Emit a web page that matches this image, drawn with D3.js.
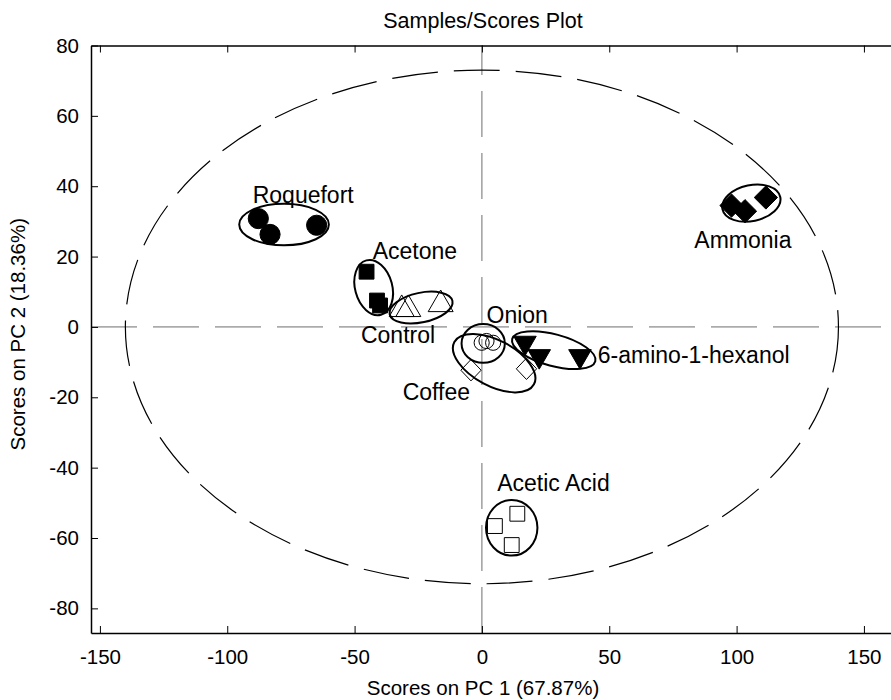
<!DOCTYPE html>
<html>
<head>
<meta charset="utf-8">
<script src="https://cdn.jsdelivr.net/npm/d3@7"></script>
<style>
  html, body { margin: 0; padding: 0; background: #fff; }
  svg { display: block; font-family: Arial, "Liberation Sans", Helvetica, sans-serif; }
</style>
</head>
<body>
<svg id="chart" width="891" height="700"></svg>
<script>
// PCA scores: PC1 vs PC2 for each odour class
const groups = ["Roquefort", "Acetone", "Control", "Onion", "Coffee", "6-amino-1-hexanol", "Ammonia", "Acetic Acid"];
const markers = ["circleFilled", "squareFilled", "triangleOpen", "circleOpen", "diamondOpen", "triangleDownFilled", "diamondFilled", "squareOpen"];

const pc1 = [
  [-87.8, -83.2, -64.9],
  [-45.3, -41.2, -40.0],
  [-31.5, -28.9, -16.2],
  [-0.1, 1.8, 4.4],
  [-4.3, 17.5],
  [16.9, 22.5, 38.5],
  [98.0, 103.3, 111.5],
  [13.9, 5.1, 11.7]
];
const pc2 = [
  [30.8, 26.3, 28.9],
  [15.7, 7.5, 6.1],
  [5.0, 5.0, 6.4],
  [-4.5, -4.0, -4.5],
  [-12.3, -11.9],
  [-4.5, -8.3, -8.3],
  [34.5, 32.9, 36.8],
  [-53.1, -56.6, -62.0]
];

// group ellipses: centre, half-axes (score units) and tilt (degrees)
const ellCx = [-77.7, -42.5, -23.9, 0.5, 4.8, 28.2, 105.8, 11.7];
const ellCy = [29.1, 11.2, 5.5, -4.7, -10.3, -6.6, 35.2, -57.1];
const ellRx = [17.6, 7.3, 12.6, 8.5, 17.7, 16.9, 11.6, 10.1];
const ellRy = [5.9, 8.0, 4.2, 5.5, 6.5, 4.5, 5.1, 7.9];
const ellTilt = [0, -15, -12, 0, 28, 15, -12, 0];

// group label anchors (score units)
const labelX = [-90.0, -42.9, -47.5, 1.8, -31.1, 45.5, 83.4, 6.0];
const labelY = [35.3, 19.2, -4.7, 1.2, -20.9, -10.2, 22.5, -46.7];

// confidence ellipse around all scores
const confRx = 140;
const confRy = 73;

const xTicks = [-150, -100, -50, 0, 50, 100, 150];
const yTicks = [-80, -60, -40, -20, 0, 20, 40, 60, 80];
const xDomain = [-153.5, 162.2];
const yDomain = [-87, 80];

const titleText = "Samples/Scores Plot";
const xLabelText = "Scores on PC 1 (67.87%)";
const yLabelText = "Scores on PC 2 (18.36%)";

const svg = d3.select("#chart");
const plot = { left: 91, right: 895, top: 45.5, bottom: 633 };

const x = d3.scaleLinear().domain(xDomain).range([plot.left, plot.right]);
const y = d3.scaleLinear().domain(yDomain).range([plot.bottom, plot.top]);
const kx = Math.abs(x(1) - x(0));
const ky = Math.abs(y(1) - y(0));

const dashes = "46,16";

// zero reference lines
svg.append("line")
  .attr("x1", x(xDomain[0])).attr("x2", x(xDomain[1]))
  .attr("y1", y(0)).attr("y2", y(0))
  .attr("stroke", "#6e6e6e").attr("stroke-width", 1)
  .attr("stroke-dasharray", dashes);
svg.append("line")
  .attr("x1", x(0)).attr("x2", x(0))
  .attr("y1", y(yDomain[0])).attr("y2", y(yDomain[1]))
  .attr("stroke", "#6e6e6e").attr("stroke-width", 1)
  .attr("stroke-dasharray", dashes);

// confidence ellipse
svg.append("ellipse")
  .attr("cx", x(0)).attr("cy", y(0))
  .attr("rx", confRx * kx).attr("ry", confRy * ky)
  .attr("fill", "none").attr("stroke", "#000").attr("stroke-width", 1.2)
  .attr("stroke-dasharray", dashes);

// markers
const symbolShape = {
  circleFilled: { type: d3.symbolCircle, size: 320, fill: true },
  circleOpen: { type: d3.symbolCircle, size: 180, fill: false },
  squareFilled: { type: d3.symbolSquare, size: 220, fill: true },
  squareOpen: { type: d3.symbolSquare, size: 220, fill: false },
  diamondFilled: { type: d3.symbolDiamond, size: 310, fill: true, sx: 1.23, sy: 0.71 },
  diamondOpen: { type: d3.symbolDiamond, size: 240, fill: false, sx: 1.22, sy: 0.74 },
  triangleOpen: { type: d3.symbolTriangle, size: 270, fill: false },
  triangleDownFilled: { type: d3.symbolTriangle, size: 220, fill: true, flip: true }
};

const pointsLayer = svg.append("g");
groups.forEach((g, gi) => {
  const spec = symbolShape[markers[gi]];
  const path = d3.symbol().type(spec.type).size(spec.size)();
  const pts = pc1[gi].map((v, i) => ({ px: v, py: pc2[gi][i] }));
  pointsLayer.append("g").selectAll("path")
    .data(pts)
    .join("path")
    .attr("d", path)
    .attr("transform", d => {
      let t = `translate(${x(d.px)},${y(d.py)})`;
      if (spec.flip) t += " rotate(180)";
      if (spec.sx) t += ` scale(${spec.sx},${spec.sy})`;
      return t;
    })
    .attr("fill", spec.fill ? "#000" : "none")
    .attr("stroke", "#000")
    .attr("stroke-width", 1)
    .attr("vector-effect", "non-scaling-stroke");
});

// group ellipses
const ellLayer = svg.append("g");
groups.forEach((g, gi) => {
  ellLayer.append("ellipse")
    .attr("transform", `translate(${x(ellCx[gi])},${y(ellCy[gi])}) rotate(${ellTilt[gi]})`)
    .attr("rx", ellRx[gi] * kx)
    .attr("ry", ellRy[gi] * ky)
    .attr("fill", "none")
    .attr("stroke", "#000")
    .attr("stroke-width", 2);
});

// group labels
svg.append("g").selectAll("text")
  .data(groups)
  .join("text")
  .attr("x", (d, i) => x(labelX[i]))
  .attr("y", (d, i) => y(labelY[i]))
  .attr("font-size", 23)
  .attr("fill", "#000")
  .text(d => d);

// axes (box with inward ticks on left, bottom and top)
const tickLen = 7;
const plainNum = d => String(d);
const axisBottom = d3.axisBottom(x).tickValues(xTicks).tickFormat(plainNum).tickSizeInner(-tickLen).tickSizeOuter(0).tickPadding(16);
const axisTop = d3.axisTop(x).tickValues(xTicks).tickSizeInner(-tickLen).tickSizeOuter(0).tickFormat("");
const axisLeft = d3.axisLeft(y).tickValues(yTicks).tickFormat(plainNum).tickSizeInner(-tickLen).tickSizeOuter(0).tickPadding(12);

const gB = svg.append("g").attr("transform", `translate(0,${plot.bottom})`).call(axisBottom);
const gT = svg.append("g").attr("transform", `translate(0,${plot.top})`).call(axisTop);
const gL = svg.append("g").attr("transform", `translate(${plot.left},0)`).call(axisLeft);

[gB, gT, gL].forEach(g => {
  g.select(".domain").attr("stroke", "#000").attr("stroke-width", 1.5);
  g.selectAll(".tick line").attr("stroke", "#000").attr("stroke-width", 1);
  g.selectAll(".tick text").attr("font-size", 20.5).attr("fill", "#000")
    .attr("font-family", "Arial, 'Liberation Sans', sans-serif");
});

// titles
svg.append("text")
  .attr("x", 483).attr("y", 28)
  .attr("text-anchor", "middle").attr("font-size", 21.5)
  .text(titleText);
svg.append("text")
  .attr("x", 483).attr("y", 695)
  .attr("text-anchor", "middle").attr("font-size", 20.5)
  .text(xLabelText);
svg.append("text")
  .attr("transform", `translate(25,${(plot.top + plot.bottom) / 2 - 5}) rotate(-90)`)
  .attr("text-anchor", "middle").attr("font-size", 20.5)
  .text(yLabelText);
</script>
</body>
</html>
